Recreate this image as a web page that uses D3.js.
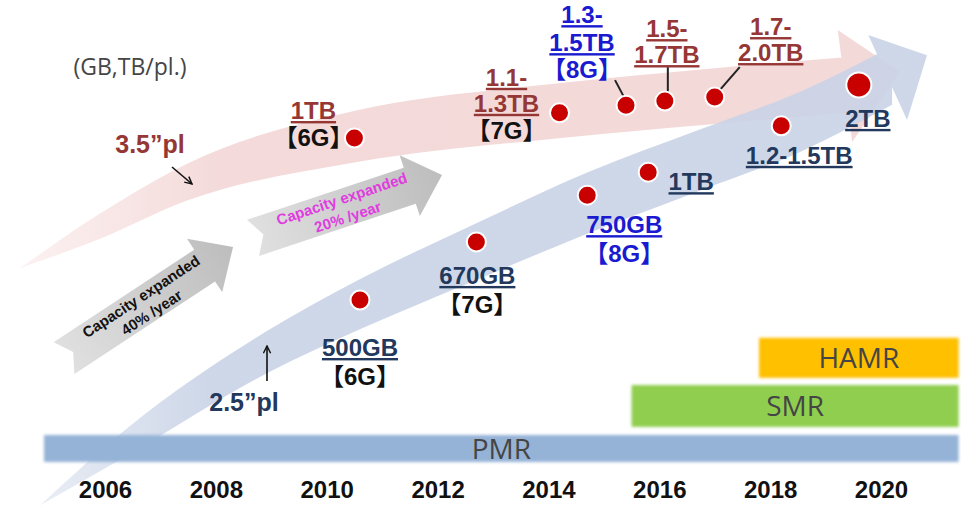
<!DOCTYPE html>
<html>
<head>
<meta charset="utf-8">
<script src="https://cdn.jsdelivr.net/npm/d3@7"></script>
<style>
  body { margin: 0; background: #fff; }
  svg { display: block; }
  .lbl { font-family: "Liberation Sans", Arial, "Noto Sans CJK SC", sans-serif; font-weight: bold; font-size: 24px; text-anchor: middle; }
  .soft { font-family: "Open Sans", sans-serif; fill: #454545; text-anchor: middle; }
</style>
</head>
<body>
<div id="chart"></div>
<script>
// axis years
var yearTicks = [2006, 2008, 2010, 2012, 2014, 2016, 2018, 2020];

// 3.5" platter: year of launch, relative height on the chart
var years35 = [2010.5, 2014.2, 2015.4, 2016.1, 2017.0];
var levels35 = [76.0, 81.6, 83.3, 84.2, 85.1];
var labels35 = [["1TB", "【6G】"], ["1.1-", "1.3TB", "【7G】"], ["1.3-", "1.5TB", "【8G】"], ["1.5-", "1.7TB"], ["1.7-", "2.0TB"]];

// 2.5" platter
var years25 = [2010.6, 2012.7, 2014.7, 2015.8, 2018.2, 2019.6];
var levels25 = [40.0, 52.9, 63.3, 68.4, 78.7, 87.8];
var labels25 = [["500GB", "【6G】"], ["670GB", "【7G】"], ["750GB", "【8G】"], ["1TB"], ["1.2-1.5TB"], ["2TB"]];

// recording technologies
var techNames = ["PMR", "SMR", "HAMR"];
var techStart = [2004.9, 2015.5, 2017.8];
var techEnd = [2021.4, 2021.4, 2021.4];

// growth notes
var growthText = [["Capacity expanded", "40% /year"], ["Capacity expanded", "20% /year"]];

var width = 961, height = 508;
var maroon = "#953735", navy = "#22385c", blue = "#1a1ad0";

var xScale = d3.scaleLinear().domain([2006, 2020]).range([105, 881]);
var yScale = d3.scaleLinear().domain([0, 100]).range([480, 30]);

var svg = d3.select("#chart").append("svg")
  .attr("width", width)
  .attr("height", height);

var defs = svg.append("defs");
function grad(id, stops, x1, x2) {
  var g = defs.append("linearGradient").attr("id", id);
  if (x1 !== undefined) g.attr("gradientUnits", "userSpaceOnUse").attr("x1", x1).attr("x2", x2).attr("y1", 0).attr("y2", 0);
  stops.forEach(s => g.append("stop").attr("offset", s[0]).attr("stop-color", s[1]));
}
grad("pinkGrad", [[0, "#fcf1f1"], [0.35, "#f4dada"], [1, "#f4d9d9"]], 20, 600);
grad("blueGrad", [[0, "#e6ebf4"], [0.3, "#c9d3e6"], [1, "#c9d3e6"]], 40, 600);
grad("grayGrad", [[0, "#e0e0e0"], [1, "#bdbdbd"]]);
defs.append("filter").attr("id", "soft").attr("x", "-5%").attr("y", "-50%").attr("width", "110%").attr("height", "200%")
  .append("feGaussianBlur").attr("stdDeviation", 1.6);
defs.append("marker").attr("id", "arr").attr("viewBox", "0 0 10 10").attr("refX", 9).attr("refY", 5)
  .attr("markerWidth", 9).attr("markerHeight", 9).attr("orient", "auto").attr("markerUnits", "userSpaceOnUse")
  .append("path").attr("d", "M1,1 L9,5 L1,9").attr("fill", "none").attr("stroke", "#111").attr("stroke-width", 1.6);

/* Big trend arrows: [year, centre level, thickness] + head triangle */
var pinkBand = [[2004.47, 47.1, 0], [2005.91, 56.4, 5.6], [2007.48, 66.2, 8.2], [2010.55, 76.4, 11.5],
  [2014.23, 82.1, 12.2], [2017.0, 85.3, 12.4], [2019.40, 87.8, 12.4]];
var pinkHead = [[2019.22, 100.0], [2020.34, 90.7], [2019.48, 75.1]];
var blueBand = [[2004.83, -5.6, 0], [2006.45, 8.9, 6.2], [2008.92, 28.4, 9.4], [2010.64, 39.3, 11.2],
  [2012.69, 50.7, 12.6], [2014.71, 61.6, 13.6], [2016.73, 71.1, 13.6], [2018.54, 79.6, 13.4], [2020.20, 89.9, 13.0]];
var blueHead = [[2019.77, 98.9], [2020.83, 94.4], [2020.47, 80.0]];

var band = d3.area()
  .x(d => xScale(d[0]))
  .y0(d => yScale(d[1] - d[2] / 2))
  .y1(d => yScale(d[1] + d[2] / 2))
  .curve(d3.curveMonotoneX);
function tri(h) { return "M" + h.map(p => xScale(p[0]) + "," + yScale(p[1])).join("L") + "Z"; }

svg.append("path").attr("d", band(pinkBand) + tri(pinkHead)).attr("fill", "url(#pinkGrad)");
svg.append("path").attr("d", band(blueBand) + tri(blueHead)).attr("fill", "url(#blueGrad)").attr("opacity", 0.9);

/* Technology bars */
var techRows = { PMR: [4, 10], SMR: [11.8, 21.1], HAMR: [22.7, 31.6] };
var techColor = { PMR: "#95b3d7", SMR: "#8fce4f", HAMR: "#ffc000" };
var tech = svg.append("g");
techNames.forEach(function (n, i) {
  var r = techRows[n];
  tech.append("rect")
    .attr("x", xScale(techStart[i]))
    .attr("y", yScale(r[1]))
    .attr("width", xScale(techEnd[i]) - xScale(techStart[i]))
    .attr("height", yScale(r[0]) - yScale(r[1]))
    .attr("fill", techColor[n])
    .attr("filter", "url(#soft)");
  tech.append("text").attr("class", "soft")
    .attr("x", (xScale(techStart[i]) + xScale(techEnd[i])) / 2)
    .attr("y", yScale((r[0] + r[1]) / 2))
    .attr("dy", "0.36em")
    .style("font-size", "28px")
    .text(n);
});

/* Gray growth arrows */
var growthArrows = [
  { tail: [2005.26, 27.1], tip: [2008.31, 51.8], color: "#111" },
  { tail: [2008.67, 53.8], tip: [2012.08, 67.8], color: "#e03ce0" }
];
growthArrows.forEach(function (a, i) {
  var x0 = xScale(a.tail[0]), y0 = yScale(a.tail[1]);
  var x1 = xScale(a.tip[0]), y1 = yScale(a.tip[1]);
  var len = Math.hypot(x1 - x0, y1 - y0);
  var ang = Math.atan2(y1 - y0, x1 - x0) * 180 / Math.PI;
  var bh = 19, hh = 32, hl = 34, notch = 11;
  var pts = [[0, -bh], [len - hl, -bh], [len - hl, -hh], [len, 0], [len - hl, hh], [len - hl, bh], [0, bh], [notch, 0]];
  var g = svg.append("g").attr("transform", `translate(${x0},${y0}) rotate(${ang})`);
  g.append("path").attr("d", "M" + pts.join("L") + "Z").attr("fill", "url(#grayGrad)");
  g.selectAll("text").data(growthText[i]).join("text")
    .attr("class", "lbl")
    .attr("x", len / 2 - 3)
    .attr("y", (d, j) => j === 0 ? -9 : 10)
    .attr("dy", "0.35em")
    .style("font-size", "15px")
    .attr("fill", a.color)
    .text(d => d);
});

/* Axis */
var xAxis = d3.axisBottom(xScale).tickValues(yearTicks).tickSize(0).tickPadding(3).tickFormat(d3.format("d"));
var ax = svg.append("g").attr("transform", "translate(0,478)").call(xAxis);
ax.select(".domain").remove();
ax.selectAll("text")
  .attr("fill", "#111")
  .style("font-family", "'Liberation Sans', Arial, sans-serif")
  .style("font-weight", "bold")
  .style("font-size", "24px");

/* Annotations */
svg.append("text").attr("class", "soft").attr("x", 130).attr("y", 75)
  .style("font-size", "23px").attr("fill", "#595959").text("(GB,TB/pl.)");
svg.append("text").attr("class", "lbl").attr("x", 150).attr("y", 153).attr("fill", maroon).style("font-size", "25px").text("3.5”pl");
svg.append("line").attr("x1", 172).attr("y1", 167).attr("x2", 192).attr("y2", 184)
  .attr("stroke", "#111").attr("stroke-width", 1.6).attr("marker-end", "url(#arr)");
svg.append("text").attr("class", "lbl").attr("x", 244).attr("y", 411).attr("fill", navy).style("font-size", "25px").text("2.5”pl");
svg.append("line").attr("x1", 267).attr("y1", 381).attr("x2", 267).attr("y2", 346)
  .attr("stroke", "#111").attr("stroke-width", 1.6).attr("marker-end", "url(#arr)");

/* Points and their labels (offsets from the dot) */
var place35 = [
  { dx: -41, dy: [-19, 8], colors: [maroon, "#111"], ul: [1, 0] },
  { dx: -53, dy: [-27, -1, 26], colors: [maroon, maroon, "#111"], ul: [1, 1, 0] },
  { dx: -44, dy: [-82, -54, -27], colors: [blue, blue, blue], ul: [1, 1, 0], leader: [[-11, -25], [-2, -8]] },
  { dx: 2, dy: [-64, -38], colors: [maroon, maroon], ul: [1, 1], leader: [[3, -34], [3, -9]] },
  { dx: 56, dy: [-62, -36], colors: [maroon, maroon], ul: [1, 1], leader: [[25, -30], [5, -7]] }
];
var place25 = [
  { dx: 0, dy: [56, 85], colors: [navy, "#111"], ul: [1, 0] },
  { dx: 1, dy: [42, 71], colors: [navy, "#111"], ul: [1, 0] },
  { dx: 37, dy: [38, 67], colors: [blue, blue], ul: [1, 0] },
  { dx: 43, dy: [18], colors: [navy], ul: [1] },
  { dx: 18, dy: [38], colors: [navy], ul: [1] },
  { dx: 9, dy: [42], colors: [navy], ul: [1] }
];

function drawSeries(years, levels, labels, place, bigLast) {
  var g = svg.append("g");
  years.forEach(function (yr, i) {
    var cx = xScale(yr), cy = yScale(levels[i]), p = place[i];
    if (p.leader) {
      g.append("line")
        .attr("x1", cx + p.leader[0][0]).attr("y1", cy + p.leader[0][1])
        .attr("x2", cx + p.leader[1][0]).attr("y2", cy + p.leader[1][1])
        .attr("stroke", "#222").attr("stroke-width", 2);
    }
    labels[i].forEach(function (t, j) {
      g.append("text").attr("class", "lbl")
        .attr("x", cx + p.dx)
        .attr("y", cy + p.dy[j])
        .attr("fill", p.colors[j])
        .style("text-decoration", p.ul[j] ? "underline" : null)
        .text(t);
    });
    g.append("circle")
      .attr("cx", cx).attr("cy", cy)
      .attr("r", bigLast && i === years.length - 1 ? 12.5 : 9.5)
      .attr("fill", "#c80000")
      .attr("stroke", "#fff")
      .attr("stroke-width", 2);
  });
}
drawSeries(years35, levels35, labels35, place35, false);
drawSeries(years25, levels25, labels25, place25, true);
</script>
</body>
</html>
